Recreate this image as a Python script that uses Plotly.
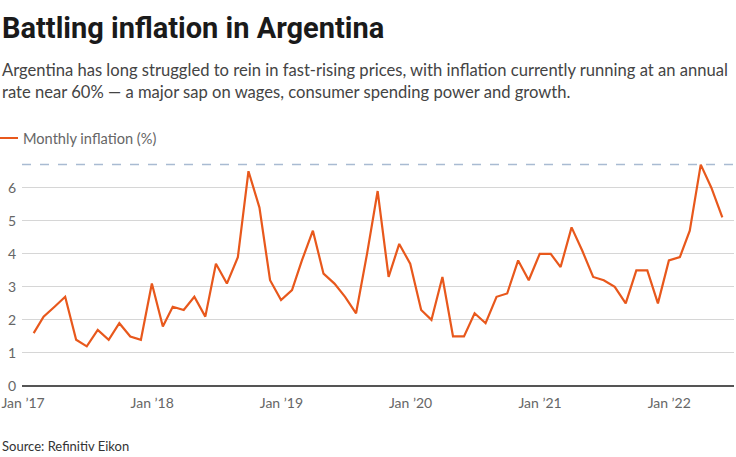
import pandas as pd
import plotly.graph_objects as go

# Monthly inflation (%), Jan 2017 - May 2022
start_month = "2017-01"
inflation = [
    1.6, 2.1, 2.4, 2.7, 1.4, 1.2, 1.7, 1.4, 1.9, 1.5, 1.4, 3.1,
    1.8, 2.4, 2.3, 2.7, 2.1, 3.7, 3.1, 3.9, 6.5, 5.4, 3.2, 2.6,
    2.9, 3.8, 4.7, 3.4, 3.1, 2.7, 2.2, 4.0, 5.9, 3.3, 4.3, 3.7,
    2.3, 2.0, 3.3, 1.5, 1.5, 2.2, 1.9, 2.7, 2.8, 3.8, 3.2, 4.0,
    4.0, 3.6, 4.8, 4.1, 3.3, 3.2, 3.0, 2.5, 3.5, 3.5, 2.5, 3.8,
    3.9, 4.7, 6.7, 6.0, 5.1,
]
dates = pd.date_range(start=start_month, periods=len(inflation), freq="ME")

x_tick_dates = ["2017-01-01", "2018-01-01", "2019-01-01", "2020-01-01", "2021-01-01", "2022-01-01"]
x_tick_labels = ["Jan \u201917", "Jan \u201918", "Jan \u201919", "Jan \u201920", "Jan \u201921", "Jan \u201922"]
y_ticks = [0, 1, 2, 3, 4, 5, 6]

title = "Battling inflation in Argentina"
subtitle = ("Argentina has long struggled to rein in fast-rising prices, with inflation currently running at an annual<br>"
            "rate near 60% \u2014 a major sap on wages, consumer spending power and growth.")
series_name = "Monthly inflation (%)"
source = "Source: Refinitiv Eikon"

FONT = "Lato"
TITLE_FONT = "Roboto"
ORANGE = "#e8581c"

W, H = 736, 457
ML, MR, MT, MB = 22, 2, 158, 71

fig = go.Figure()
fig.add_trace(go.Scatter(
    x=dates, y=inflation, mode="lines", name=series_name,
    line=dict(color=ORANGE, width=2.2), showlegend=False,
))

plot_h = H - MT - MB
plot_w = W - ML - MR

def py(ypix):
    return (H - MB - ypix) / plot_h

def px(xpix):
    return (xpix - ML) / plot_w

# dashed reference line at the peak value
fig.add_shape(type="line", xref="paper", yref="y", x0=0, x1=1,
              y0=max(inflation), y1=max(inflation),
              line=dict(color="#a9bbd2", width=1.5, dash="dash"), layer="below")

# legend swatch
fig.add_shape(type="line", xref="paper", yref="paper",
              x0=px(0), x1=px(18), y0=py(138), y1=py(138),
              line=dict(color=ORANGE, width=2))

fig.update_layout(
    width=W, height=H,
    margin=dict(l=ML, r=MR, t=MT, b=MB),
    paper_bgcolor="white", plot_bgcolor="white",
    font=dict(family=FONT, color="#666666", size=14),
    xaxis=dict(
        type="date", range=["2016-12-29", "2022-07-03"],
        tickvals=x_tick_dates, ticktext=x_tick_labels,
        showgrid=False, zeroline=False, showline=False,
        ticks="", tickfont=dict(size=14, color="#666666"),
        ticklabelstandoff=7,
    ),
    yaxis=dict(
        range=[0, 6.9], tickvals=y_ticks,
        showgrid=True, gridcolor="#d6d6d6", gridwidth=1,
        zeroline=True, zerolinecolor="#555555", zerolinewidth=1.5,
        showline=False, ticks="", tickfont=dict(size=14, color="#666666"),
        ticklabelstandoff=5,
    ),
    annotations=[
        dict(text="<b>" + title + "</b>", xref="paper", yref="paper",
             x=px(0), y=py(28), xanchor="left", yanchor="middle",
             font=dict(size=29, color="#1a1a1a", family=TITLE_FONT), showarrow=False),
        dict(text=subtitle, xref="paper", yref="paper",
             x=px(0), y=py(81), xanchor="left", yanchor="middle", align="left",
             font=dict(size=16.6, color="#444444", family=FONT), showarrow=False),
        dict(text=series_name, xref="paper", yref="paper",
             x=px(21), y=py(138), xanchor="left", yanchor="middle",
             font=dict(size=14.6, color="#666666", family=FONT), showarrow=False),
        dict(text=source, xref="paper", yref="paper",
             x=px(0), y=py(446), xanchor="left", yanchor="middle",
             font=dict(size=13, color="#333333", family=FONT), showarrow=False),
    ],
)

fig.write_html("out.html", config={"displayModeBar": False},
               post_script="document.body.style.margin='0';")
